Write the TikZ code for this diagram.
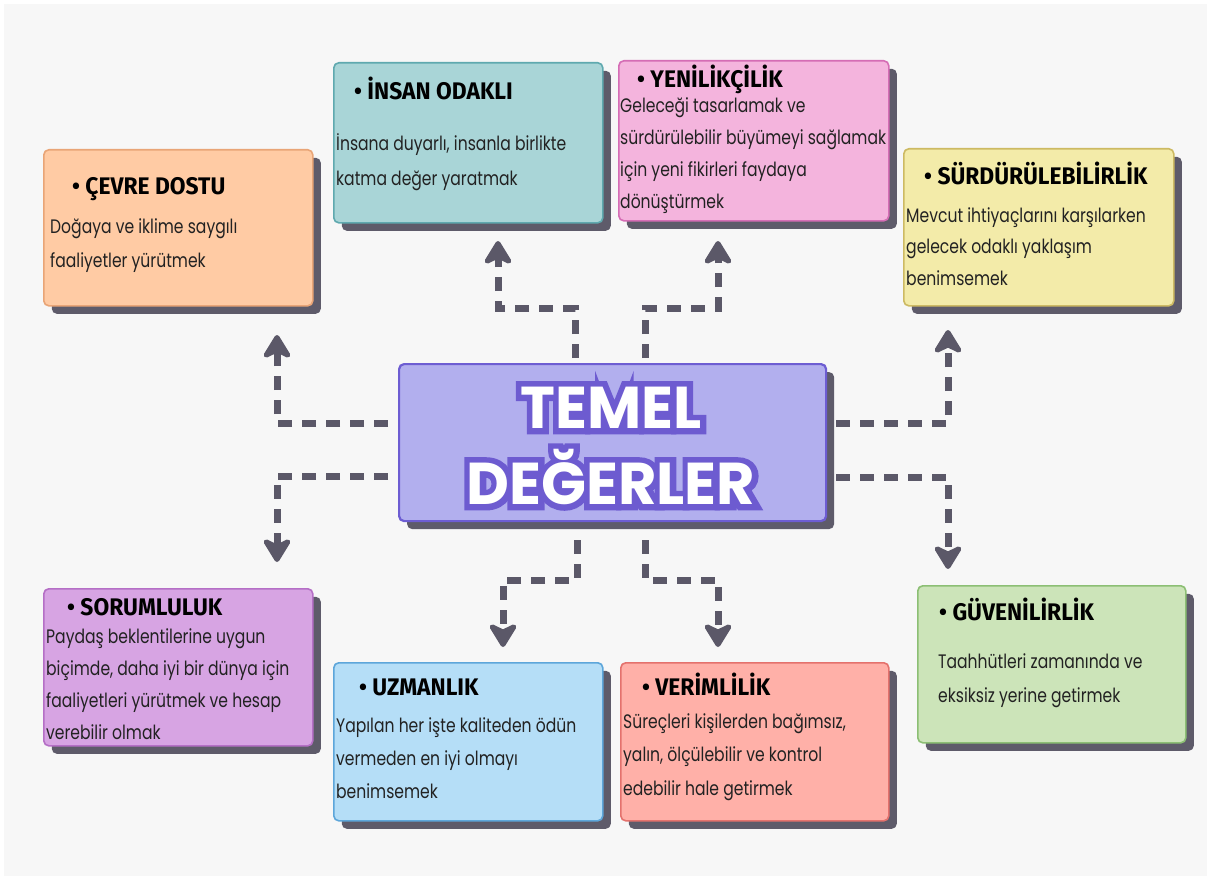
\documentclass[tikz,border=0pt]{standalone}
\usepackage{fontspec}
\setmainfont{Poppins}
\newfontfamily\bodyfont{Poppins}[FakeStretch=0.8]
\newfontfamily\headfont{Fira Sans}[FakeStretch=0.95]
\newfontfamily\titlefont{Poppins}
\newfontfamily\titleolfont{Poppins}[BoldFeatures={FakeBold=20}]
\usetikzlibrary{arrows.meta,shadows,calc}
\definecolor{bgc}{HTML}{F7F7F7}
\definecolor{shadowc}{HTML}{5E5B6A}
\definecolor{arrowc}{HTML}{5B5868}
\definecolor{txt}{HTML}{222222}
\definecolor{titleol}{HTML}{6D5BD0}
\definecolor{cevreF}{HTML}{FFCBA4}\definecolor{cevreB}{HTML}{E9A577}
\definecolor{insanF}{HTML}{A9D5D7}\definecolor{insanB}{HTML}{5FA9AF}
\definecolor{yeniF}{HTML}{F4B4DD}\definecolor{yeniB}{HTML}{D56DB5}
\definecolor{surdF}{HTML}{F3EBA9}\definecolor{surdB}{HTML}{CDBA63}
\definecolor{sorumF}{HTML}{D7A4E3}\definecolor{sorumB}{HTML}{B56FC6}
\definecolor{uzmanF}{HTML}{B5DEF7}\definecolor{uzmanB}{HTML}{5DA6DA}
\definecolor{verimF}{HTML}{FFB0A8}\definecolor{verimB}{HTML}{E4726D}
\definecolor{guvenF}{HTML}{CCE4B9}\definecolor{guvenB}{HTML}{8CBF74}
\definecolor{coreF}{HTML}{B2AFEE}\definecolor{coreB}{HTML}{6D5DD2}
\newcommand\olt[1]{\leavevmode\rlap{\color{titleol}\titleolfont\bfseries #1}{\color{white}#1}}
\tikzset{
  vbox/.style={rectangle, rounded corners=5pt, line width=1.6pt, anchor=north west, inner sep=0pt,
    drop shadow={shadow xshift=8pt, shadow yshift=-8pt, opacity=1, fill=shadowc}},
  head/.style={anchor=base west, inner sep=0pt, text=black, font=\headfont\bfseries\fontsize{24}{26}\selectfont},
  body/.style={anchor=north west, inner sep=0pt, text=txt, align=left},
  conn/.style={line width=7pt, draw=arrowc, dash pattern=on 14pt off 10pt,
    -{Stealth[length=28pt,width=34pt,inset=8pt,round]}},
}
\newcommand\bfs[1]{\bodyfont\fontsize{19.5}{#1}\selectfont}
\newcommand\st{\rule{0pt}{20pt}}
\begin{document}
\begin{tikzpicture}[x=1pt,y=-1pt]
\useasboundingbox (0,0) rectangle (1211,880);
\fill[white] (0,0) rectangle (1211,880);
\fill[bgc] (4,4) rectangle (1207,876);
% boxes
\node[vbox, fill=cevreF, draw=cevreB, minimum width=269pt, minimum height=156pt] (cevre) at (43,149) {};
\node[vbox, fill=insanF, draw=insanB, minimum width=269pt, minimum height=160pt] (insan) at (333,62) {};
\node[vbox, fill=yeniF, draw=yeniB, minimum width=270pt, minimum height=160pt] (yeni) at (618,60) {};
\node[vbox, fill=surdF, draw=surdB, minimum width=270pt, minimum height=157pt] (surd) at (903,148) {};
\node[vbox, fill=sorumF, draw=sorumB, minimum width=269pt, minimum height=157pt] (sorum) at (43,588) {};
\node[vbox, fill=uzmanF, draw=uzmanB, minimum width=269pt, minimum height=158pt] (uzman) at (333,662) {};
\node[vbox, fill=verimF, draw=verimB, minimum width=268pt, minimum height=158pt] (verim) at (620,662) {};
\node[vbox, fill=guvenF, draw=guvenB, minimum width=268pt, minimum height=157pt] (guven) at (917,585) {};
\node[vbox, fill=coreF, draw=coreB, line width=2.2pt, minimum width=427pt, minimum height=157pt] (core) at (398,363) {};
% headings
\node[head] (hcevre) at (72,195) {• ÇEVRE DOSTU};
\node[head] (hinsan) at (354,100) {• İNSAN ODAKLI};
\node[head] (hyeni) at (637,88) {• YENİLİKÇİLİK};
\node[head] (hsurd) at (924,185) {• SÜRDÜRÜLEBİLİRLİK};
\node[head] (hsorum) at (67,615) {• SORUMLULUK};
\node[head] (huzman) at (359,695) {• UZMANLIK};
\node[head] (hverim) at (642,695) {• VERİMLİLİK};
\node[head] (hguven) at (939,620) {• GÜVENİLİRLİK};
% bodies
\node[body, font=\bfs{34}] (bcevre) at (50,213) {\st Doğaya ve iklime saygılı\\faaliyetler yürütmek};
\node[body, font=\bfs{35}] (binsan) at (336,130) {\st İnsana duyarlı, insanla birlikte\\katma değer yaratmak};
\node[body, font=\bfs{32}] (byeni) at (620,92) {\st Geleceği tasarlamak ve\\sürdürülebilir büyümeyi sağlamak\\için yeni fikirleri faydaya\\dönüştürmek};
\node[body, font=\bfs{31.5}] (bsurd) at (906,202) {\st Mevcut ihtiyaçlarını karşılarken\\gelecek odaklı yaklaşım\\benimsemek};
\node[body, font=\bfs{32}] (bsorum) at (46,623) {\st Paydaş beklentilerine uygun\\biçimde, daha iyi bir dünya için\\faaliyetleri yürütmek ve hesap\\verebilir olmak};
\node[body, font=\bfs{33}] (buzman) at (336,712) {\st Yapılan her işte kaliteden ödün\\vermeden en iyi olmayı\\benimsemek};
\node[body, font=\bfs{33.5}] (bverim) at (623,708) {\st Süreçleri kişilerden bağımsız,\\yalın, ölçülebilir ve kontrol\\edebilir hale getirmek};
\node[body, font=\bfs{34}] (bguven) at (938,648) {\st Taahhütleri zamanında ve\\eksiksiz yerine getirmek};
% title
\node[inner sep=0pt, align=center, font=\titlefont\bfseries\fontsize{59}{76}\selectfont] (title) at (611,446) {\olt{TEMEL}\\\olt{DEĞERLER}};
% connector ends
\coordinate (s1) at (388,423); \coordinate (e1) at (277,335);
\coordinate (s2) at (388,476); \coordinate (e2) at (277,562);
\coordinate (s3) at (575,358); \coordinate (e3) at (498,241);
\coordinate (s4) at (645,358); \coordinate (e4) at (718,241);
\coordinate (s5) at (836,423); \coordinate (e5) at (948,330);
\coordinate (s6) at (836,477); \coordinate (e6) at (948,569);
\coordinate (s7) at (577,540); \coordinate (e7) at (503,647);
\coordinate (s8) at (645,540); \coordinate (e8) at (718,647);
\draw[conn] (s1) -| (e1);
\draw[conn] (s2) -| (e2);
\draw[conn] (s3) -- ++(0,-50) -| (e3);
\draw[conn] (s4) -- ++(0,-50) -| (e4);
\draw[conn] (s5) -| (e5);
\draw[conn] (s6) -| (e6);
\draw[conn] (s7) -- ++(0,40) -| (e7);
\draw[conn] (s8) -- ++(0,40) -| (e8);
\end{tikzpicture}
\end{document}
